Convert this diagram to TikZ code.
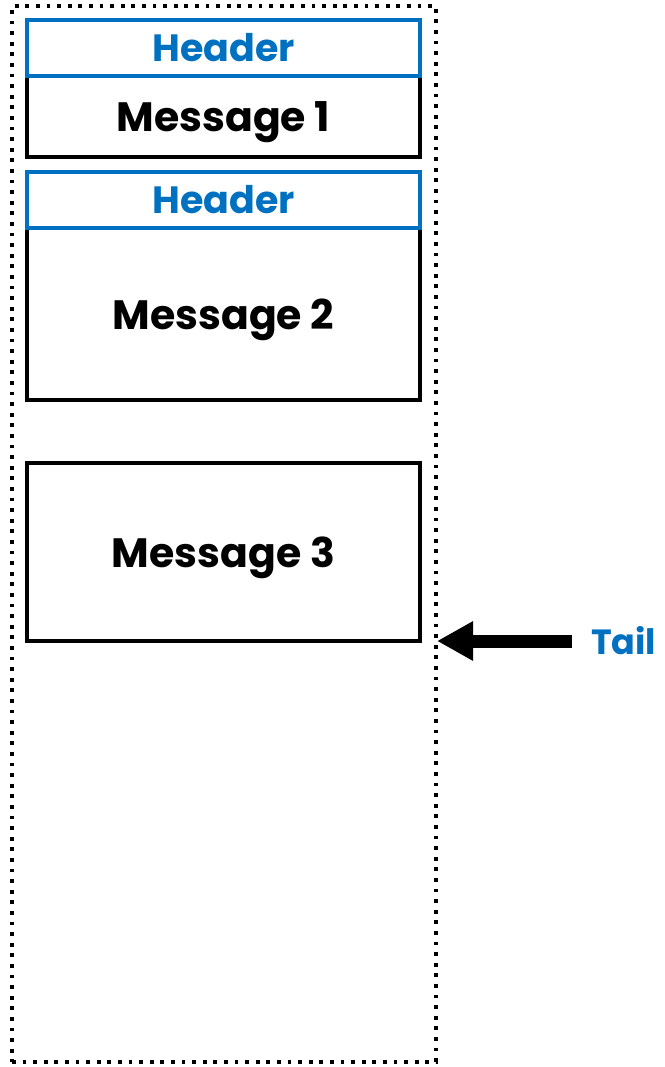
\documentclass[tikz,border=0pt]{standalone}
\usepackage{fontspec}
\setmainfont{Poppins}
\usetikzlibrary{arrows.meta}
\definecolor{hblue}{HTML}{0070C0}
\tikzset{
  msgbox/.style={draw=black, line width=4pt, minimum width=393pt, inner sep=0pt, text depth=0pt, font=\fontsize{41}{46}\selectfont\bfseries},
  hdrbox/.style={draw=hblue, line width=4pt, minimum width=393pt, minimum height=56pt, inner sep=0pt, text=hblue, font=\fontsize{38}{42}\selectfont\bfseries},
  outerbox/.style={draw=black, line width=3.8pt, dash pattern=on 3.8pt off 6.8pt},
}
\begin{document}
\begin{tikzpicture}[x=1pt,y=-1pt]
\useasboundingbox (0,0) rectangle (664,1067);
\node[outerbox, minimum width=424pt, minimum height=1056pt, inner sep=0pt] (buffer) at (224,534) {};
\node[msgbox, minimum height=81pt] (m1) at (223.5,116.5) {Message 1};
\node[hdrbox] (h1) at (223.5,48) {Header};
\node[msgbox, minimum height=171pt] (m2) at (223.5,314) {Message 2};
\node[hdrbox] (h2) at (223.5,200) {Header};
\node[msgbox, minimum height=178pt] (m3) at (223.5,552) {Message 3};
\node[anchor=west, inner sep=0pt, text=hblue, font=\fontsize{35}{40}\selectfont\bfseries] (tail) at (591,641) {Tail};
\coordinate (tip) at (437,641);
\draw[line width=13pt, -{Triangle[width=37pt,length=36pt]}] (572,641) -- (tip);
\end{tikzpicture}
\end{document}
